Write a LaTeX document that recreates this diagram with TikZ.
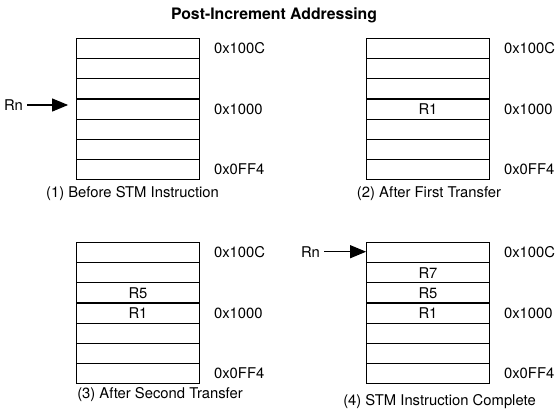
\documentclass[tikz,border=0pt]{standalone}
\usepackage{fontspec}
\setmainfont{TeX Gyre Heros}
\usetikzlibrary{positioning, arrows.meta}

\begin{document}
\begin{tikzpicture}[
    x=1pt, y=-1pt,
    font=\fontsize{14.8}{17}\selectfont,
    cell/.style = {draw, line width=1.2pt, minimum width=122.6pt, minimum height=20.2pt, inner sep=0pt},
    addr/.style = {inner sep=0pt},
    ptr/.style = {-{Triangle[length=16pt, width=13pt]}, line width=1.1pt},
    ptr_lbl/.style = {inner sep=2pt}
]
\useasboundingbox (0,0) rectangle (557,413);

% --- Title ---
\node[font=\fontsize{15.8}{18}\selectfont\bfseries] (title) at (274, 15) {Post-Increment Addressing};

% --- Memory stacks (7 words each) ---
\foreach \i in {1,...,7} {
    \node[cell] (b1r\i) at (138, {38.3+20.2*\i-10.1}) {};
    \node[cell] (b2r\i) at (428, {38.3+20.2*\i-10.1}) {};
    \node[cell] (b3r\i) at (138, {242.3+20.2*\i-10.1}) {};
    \node[cell] (b4r\i) at (428, {242.3+20.2*\i-10.1}) {};
}

% --- Stored registers ---
\node (s2r1) at (b2r4) {R1};
\node (s3r5) at (b3r3) {R5};
\node (s3r1) at (b3r4) {R1};
\node (s4r7) at (b4r2) {R7};
\node (s4r5) at (b4r3) {R5};
\node (s4r1) at (b4r4) {R1};

% --- Addresses ---
\node[addr, right=14pt of b1r1] (a1hi)  {0x100C};
\node[addr, right=14pt of b1r4] (a1mid) {0x1000};
\node[addr, right=14pt of b1r7] (a1lo)  {0x0FF4};
\node[addr, right=14pt of b2r1] (a2hi)  {0x100C};
\node[addr, right=14pt of b2r4] (a2mid) {0x1000};
\node[addr, right=14pt of b2r7] (a2lo)  {0x0FF4};
\node[addr, right=14pt of b3r1] (a3hi)  {0x100C};
\node[addr, right=14pt of b3r4] (a3mid) {0x1000};
\node[addr, right=14pt of b3r7] (a3lo)  {0x0FF4};
\node[addr, right=14pt of b4r1] (a4hi)  {0x100C};
\node[addr, right=14pt of b4r4] (a4mid) {0x1000};
\node[addr, right=14pt of b4r7] (a4lo)  {0x0FF4};

% --- Base register Rn ---
\node[ptr_lbl] (rn1) at (13.5, 105) {Rn};
\draw[ptr, shorten <=2pt, shorten >=8pt] (rn1.east) -- (rn1.east -| b1r4.west);
\node[ptr_lbl] (rn4) at (310.5, 251.7) {Rn};
\draw[ptr, shorten <=2pt] (rn4.east) -- (rn4.east -| b4r1.west);

% --- Captions ---
\node (cap1) at (132.5, 193.5) {(1) Before STM Instruction};
\node (cap2) at (429, 193.5) {(2) After First Transfer};
\node (cap3) at (160, 394.5) {(3) After Second Transfer};
\node (cap4) at (439.5, 401.5) {(4) STM Instruction Complete};

\end{tikzpicture}
\end{document}
